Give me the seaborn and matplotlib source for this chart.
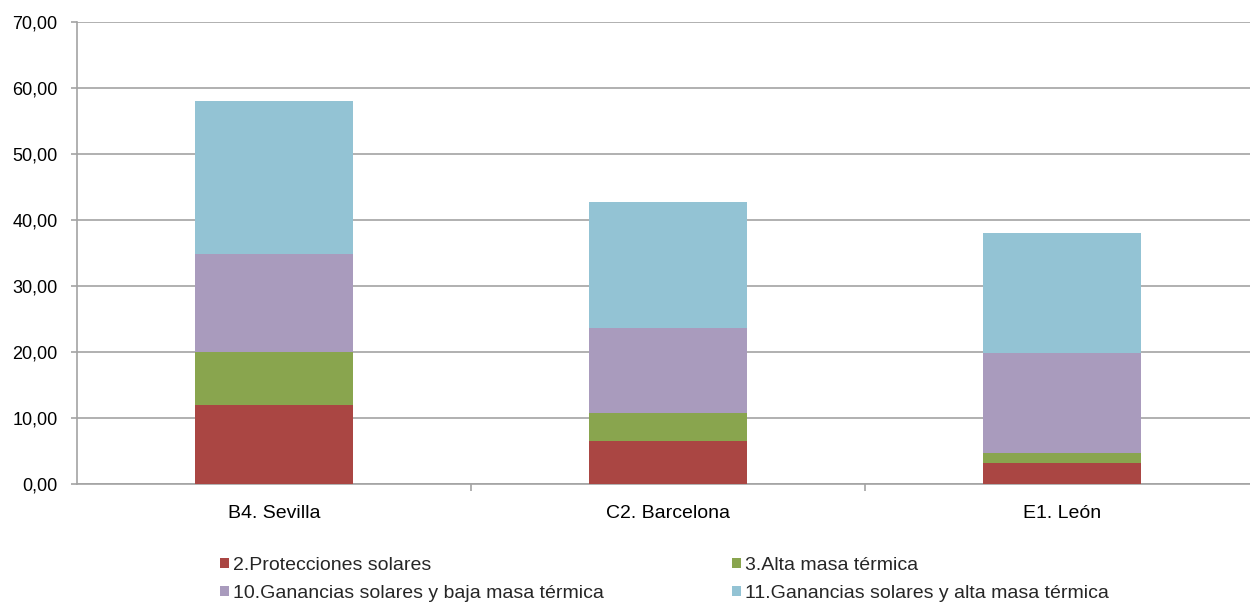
import matplotlib
matplotlib.use("Agg")
import matplotlib.pyplot as plt
from matplotlib.patches import Patch
from matplotlib.ticker import FuncFormatter, FixedLocator
import seaborn as sns
import pandas as pd
import numpy as np

# Climate zones and contribution of each strategy
ciudades = ["B4. Sevilla", "C2. Barcelona", "E1. León"]
protecciones = [11.9, 6.55, 3.22]
alta_masa = [8.15, 4.15, 1.42]
ganancias_baja = [14.85, 12.95, 15.22]
ganancias_alta = [23.1, 19.05, 18.11]

series_names = [
    "2.Protecciones solares",
    "3.Alta masa térmica",
    "10.Ganancias solares y baja masa térmica",
    "11.Ganancias solares y alta masa térmica",
]
colores = ["#AA4643", "#89A54E", "#A99BBD", "#93C3D4"]
yticks = [0, 10, 20, 30, 40, 50, 60, 70]

sns.set_theme(style="white")
plt.rcParams["font.family"] = ["Liberation Sans", "DejaVu Sans"]

df = pd.DataFrame({
    "ciudad": ciudades,
    series_names[0]: protecciones,
    series_names[1]: alta_masa,
    series_names[2]: ganancias_baja,
    series_names[3]: ganancias_alta,
})
acum = df[series_names].cumsum(axis=1)
acum["ciudad"] = df["ciudad"]

fig = plt.figure(figsize=(12.5, 6.03), dpi=100)
ax = fig.add_axes([77 / 1250, 1 - 484 / 603, 1182 / 1250, 462 / 603])

# Stacked bars: draw cumulative totals from the top series down
for name, col in zip(reversed(series_names), reversed(colores)):
    sns.barplot(data=acum, x="ciudad", y=name, color=col, saturation=1,
                width=0.4, errorbar=None, linewidth=0, ax=ax, zorder=3)

grid_col = "#A3A3A3"
ax.set_ylim(0, 70)
ax.set_xlim(-0.5, 2.5)
ax.set_yticks(yticks)
ax.yaxis.set_major_formatter(FuncFormatter(lambda v, p: f"{v:.2f}".replace(".", ",")))
ax.grid(axis="y", color=grid_col, linewidth=1.2, zorder=0)
ax.grid(axis="x", visible=False)
ax.set_axisbelow(True)
ax.set_xlabel("")
ax.set_ylabel("")

for s in ["top", "right"]:
    ax.spines[s].set_visible(False)
for s in ["left", "bottom"]:
    ax.spines[s].set_color(grid_col)
    ax.spines[s].set_linewidth(1.2)

ax.tick_params(axis="y", which="major", left=True, length=4, width=1.2,
               color=grid_col, pad=10, labelsize=13, labelcolor="black")
ax.tick_params(axis="x", which="major", bottom=True, length=0, pad=15,
               labelsize=14, labelcolor="black")
ax.xaxis.set_minor_locator(FixedLocator([0.5, 1.5]))
ax.tick_params(axis="x", which="minor", bottom=True, length=5, width=1.2,
               color=grid_col)

handles = [Patch(facecolor=c, edgecolor="none") for c in colores]
order = [0, 2, 1, 3]
fig.legend([handles[i] for i in order], [series_names[i] for i in order],
           loc="upper left", bbox_to_anchor=(220 / 1250, 1 - 557 / 603),
           ncol=2, frameon=False, fontsize=14, borderpad=0, borderaxespad=0,
           handlelength=0.47, handleheight=0.47, handletextpad=0.2,
           columnspacing=6.6, labelspacing=0.56)

fig.savefig("out.png", dpi=100, facecolor="white")
